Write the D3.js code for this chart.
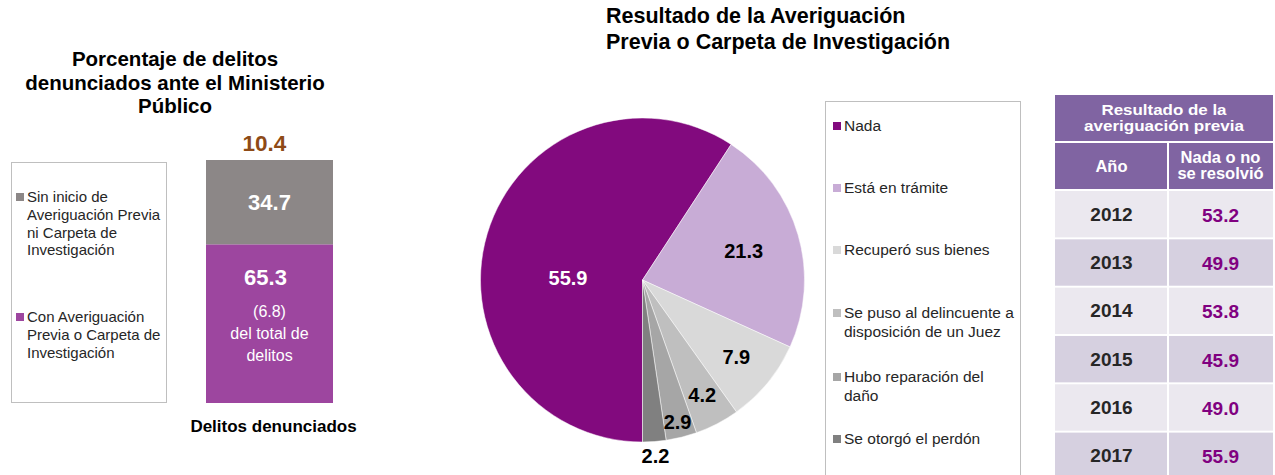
<!DOCTYPE html>
<html>
<head>
<meta charset="utf-8">
<script src="https://cdn.jsdelivr.net/npm/d3@7"></script>
<style>
  body { margin: 0; background: #fff; }
  svg { font-family: "Liberation Sans", Arial, sans-serif; }
</style>
</head>
<body>
<svg id="chart" width="1275" height="475"></svg>
<script>
// stacked bar (left)
const barCategories = ["Sin inicio de Averiguación Previa ni Carpeta de Investigación", "Con Averiguación Previa o Carpeta de Investigación"];
const barValues = [34.7, 65.3];
const barTotal = 10.4;
const barShareOfTotal = 6.8;

// pie (middle)
const pieCategories = ["Nada", "Está en trámite", "Recuperó sus bienes", "Se puso al delincuente a disposición de un Juez", "Hubo reparación del daño", "Se otorgó el perdón"];
const pieValues = [55.9, 21.3, 7.9, 4.2, 2.9, 2.2];

// table (right)
const tableYears = ["2012", "2013", "2014", "2015", "2016", "2017"];
const tableValues = [53.2, 49.9, 53.8, 45.9, 49.0, 55.9];

const svg = d3.select("#chart");
svg.append("rect").attr("width", 1275).attr("height", 475).attr("fill", "#fff");

renderBar();
renderPie();
renderTable();

function renderBar() {
  const barColors = ["#8c8787", "#9d469f"];

  svg.append("text")
    .attr("x", 175).attr("y", 66)
    .attr("text-anchor", "middle")
    .attr("font-size", 20.5).attr("font-weight", "bold").attr("fill", "#000")
    .selectAll("tspan")
    .data(["Porcentaje de delitos", "denunciados ante el Ministerio", "Público"])
    .join("tspan")
    .attr("x", 175).attr("dy", (d, i) => (i === 0 ? 0 : 23.5))
    .text((d) => d);

  const x = d3.scaleBand().domain(["Delitos denunciados"]).range([206, 333]).padding(0);
  const y = d3.scaleLinear().domain([0, 100]).range([403, 160]);

  // stack: bottom = Con Averiguación, top = Sin inicio
  const stackOrder = [1, 0];
  let base = 0;
  const segs = stackOrder.map((idx) => {
    const s = { idx, y0: base, y1: base + barValues[idx] };
    base += barValues[idx];
    return s;
  });

  svg.append("g").selectAll("rect")
    .data(segs)
    .join("rect")
    .attr("x", x("Delitos denunciados"))
    .attr("width", x.bandwidth())
    .attr("y", (d) => y(d.y1))
    .attr("height", (d) => y(d.y0) - y(d.y1))
    .attr("fill", (d) => barColors[d.idx]);

  const cx = x("Delitos denunciados") + x.bandwidth() / 2;

  // value labels
  const top = segs[1];
  svg.append("text")
    .attr("x", cx).attr("y", y((top.y0 + top.y1) / 2) + 8)
    .attr("text-anchor", "middle").attr("font-size", 22).attr("font-weight", "bold").attr("fill", "#fff")
    .text(barValues[0].toFixed(1));

  const bot = segs[0];
  svg.append("text")
    .attr("x", cx - 4).attr("y", y(bot.y1) + 41)
    .attr("text-anchor", "middle").attr("font-size", 22).attr("font-weight", "bold").attr("fill", "#fff")
    .text(barValues[1].toFixed(1));

  svg.append("text")
    .attr("x", cx).attr("y", y(bot.y1) + 73)
    .attr("text-anchor", "middle").attr("font-size", 16).attr("fill", "#fff")
    .selectAll("tspan")
    .data([`(${barShareOfTotal.toFixed(1)})`, "del total de", "delitos"])
    .join("tspan")
    .attr("x", cx).attr("dy", (d, i) => (i === 0 ? 0 : 22))
    .text((d) => d);

  svg.append("text")
    .attr("x", cx - 5).attr("y", y(100) - 9)
    .attr("text-anchor", "middle").attr("font-size", 22.5).attr("font-weight", "bold").attr("fill", "#8e4a16")
    .text(barTotal.toFixed(1));

  svg.append("text")
    .attr("x", cx + 4).attr("y", 432)
    .attr("text-anchor", "middle").attr("font-size", 17).attr("font-weight", "bold").attr("fill", "#000")
    .text("Delitos denunciados");

  // legend
  svg.append("rect").attr("x", 11.5).attr("y", 162.5).attr("width", 155).attr("height", 240)
    .attr("fill", "#fff").attr("stroke", "#bfbfbf");

  const legendLines = [
    ["Sin inicio de", "Averiguación Previa", "ni Carpeta de", "Investigación"],
    ["Con Averiguación", "Previa o Carpeta de", "Investigación"]
  ];
  const legendY = [202, 322];
  const lg = svg.append("g").selectAll("g")
    .data(barCategories)
    .join("g")
    .attr("transform", (d, i) => `translate(16,${legendY[i]})`);
  lg.append("rect").attr("x", 0).attr("y", -9).attr("width", 8).attr("height", 8)
    .attr("fill", (d, i) => barColors[i]);
  lg.append("text").attr("font-size", 15).attr("fill", "#262626")
    .selectAll("tspan")
    .data((d, i) => legendLines[i])
    .join("tspan")
    .attr("x", 11).attr("dy", (d, i) => (i === 0 ? 0 : 17.8))
    .text((d) => d);
}

function renderPie() {
  const colors = ["#820a7e", "#c8acd6", "#d9d9d9", "#bfbfbf", "#a6a6a6", "#808080"];
  const cx = 642.5, cy = 280, radius = 162;
  const labelR = [0.48, 0.65, 0.75, 0.8, 0.9, 1.09];
  const labelColor = ["#fff", "#000", "#000", "#000", "#000", "#000"];

  svg.append("text")
    .attr("x", 606).attr("y", 23)
    .attr("font-size", 21.5).attr("font-weight", "bold").attr("fill", "#000")
    .selectAll("tspan")
    .data(["Resultado de la Averiguación", "Previa o Carpeta de Investigación"])
    .join("tspan")
    .attr("x", 606).attr("dy", (d, i) => (i === 0 ? 0 : 26))
    .text((d) => d);

  const pie = d3.pie().sort(null).startAngle(Math.PI).endAngle(3 * Math.PI);
  const arcs = pie(pieValues);
  const arc = d3.arc().innerRadius(0).outerRadius(radius);

  const g = svg.append("g").attr("transform", `translate(${cx},${cy})`);
  g.selectAll("path")
    .data(arcs)
    .join("path")
    .attr("d", arc)
    .attr("fill", (d, i) => colors[i])
    .attr("stroke", "#fff").attr("stroke-width", 0.5);

  g.selectAll("text")
    .data(arcs)
    .join("text")
    .attr("transform", (d, i) => {
      const a = (d.startAngle + d.endAngle) / 2;
      const r = radius * labelR[i];
      const dy = i === 0 ? 20 : 0;
      return `translate(${Math.sin(a) * r},${-Math.cos(a) * r + dy})`;
    })
    .attr("dy", "0.36em")
    .attr("text-anchor", "middle")
    .attr("font-size", 20).attr("font-weight", "bold")
    .attr("fill", (d, i) => labelColor[i])
    .text((d) => d.data.toFixed(1));

  // legend
  svg.append("rect").attr("x", 825.5).attr("y", 101.5).attr("width", 195).attr("height", 380)
    .attr("fill", "#fff").attr("stroke", "#bfbfbf");
  const legendLines = [
    ["Nada"], ["Está en trámite"], ["Recuperó sus bienes"],
    ["Se puso al delincuente a", "disposición de un Juez"],
    ["Hubo reparación del", "daño"], ["Se otorgó el perdón"]
  ];
  const legendY = [131, 193, 255, 318, 382, 444];
  const lg = svg.append("g").selectAll("g")
    .data(pieCategories)
    .join("g")
    .attr("transform", (d, i) => `translate(833,${legendY[i]})`);
  lg.append("rect").attr("x", 0).attr("y", -9).attr("width", 8).attr("height", 8)
    .attr("fill", (d, i) => colors[i]);
  lg.append("text").attr("font-size", 15.5).attr("fill", "#262626")
    .selectAll("tspan")
    .data((d, i) => legendLines[i])
    .join("tspan")
    .attr("x", 11).attr("dy", (d, i) => (i === 0 ? 0 : 18.5))
    .text((d) => d);
}

function renderTable() {
  const x0 = 1055, x1 = 1168, x2 = 1273;
  const headerFill = "#8064a2";
  const rowFills = ["#ebe8ef", "#d6d0e0"];

  const y = d3.scaleBand().domain(tableYears).range([191, 479]).paddingInner(0.04).paddingOuter(0);

  const t = svg.append("g");
  t.append("rect").attr("x", x0).attr("y", 95).attr("width", x2 - x0).attr("height", 46).attr("fill", headerFill);
  t.append("rect").attr("x", x0).attr("y", 143).attr("width", x1 - x0 - 1).attr("height", 46).attr("fill", headerFill);
  t.append("rect").attr("x", x1 + 1).attr("y", 143).attr("width", x2 - x1 - 1).attr("height", 46).attr("fill", headerFill);

  t.append("text").attr("text-anchor", "middle").attr("font-size", 15.5).attr("font-weight", "bold").attr("fill", "#fff")
    .selectAll("tspan")
    .data(["Resultado de la", "averiguación previa"])
    .join("tspan")
    .attr("x", (x0 + x2) / 2).attr("y", (d, i) => 115 + i * 16)
    .attr("textLength", (d, i) => (i === 0 ? 125 : 160)).attr("lengthAdjust", "spacingAndGlyphs")
    .text((d) => d);
  t.append("text").attr("x", (x0 + x1) / 2).attr("y", 172).attr("text-anchor", "middle")
    .attr("font-size", 16.5).attr("font-weight", "bold").attr("fill", "#fff").text("Año");
  t.append("text").attr("text-anchor", "middle").attr("font-size", 16.5).attr("font-weight", "bold").attr("fill", "#fff")
    .selectAll("tspan")
    .data(["Nada o no", "se resolvió"])
    .join("tspan")
    .attr("x", (x1 + x2) / 2).attr("y", (d, i) => 163 + i * 16)
    .text((d) => d);

  const rows = t.selectAll("g.row")
    .data(tableYears)
    .join("g")
    .attr("class", "row");
  rows.append("rect").attr("x", x0).attr("y", (d) => y(d)).attr("width", x1 - x0 - 1).attr("height", y.bandwidth())
    .attr("fill", (d, i) => rowFills[i % 2]);
  rows.append("rect").attr("x", x1 + 1).attr("y", (d) => y(d)).attr("width", x2 - x1 - 1).attr("height", y.bandwidth())
    .attr("fill", (d, i) => rowFills[i % 2]);
  rows.append("text").attr("x", (x0 + x1) / 2).attr("y", (d) => y(d) + y.bandwidth() / 2 + 6.5)
    .attr("text-anchor", "middle").attr("font-size", 19).attr("font-weight", "bold").attr("fill", "#262626")
    .text((d) => d);
  rows.append("text").attr("x", (x1 + x2) / 2).attr("y", (d) => y(d) + y.bandwidth() / 2 + 7.5)
    .attr("text-anchor", "middle").attr("font-size", 19).attr("font-weight", "bold").attr("fill", "#800080")
    .text((d, i) => tableValues[i].toFixed(1));
}
</script>
</body>
</html>
